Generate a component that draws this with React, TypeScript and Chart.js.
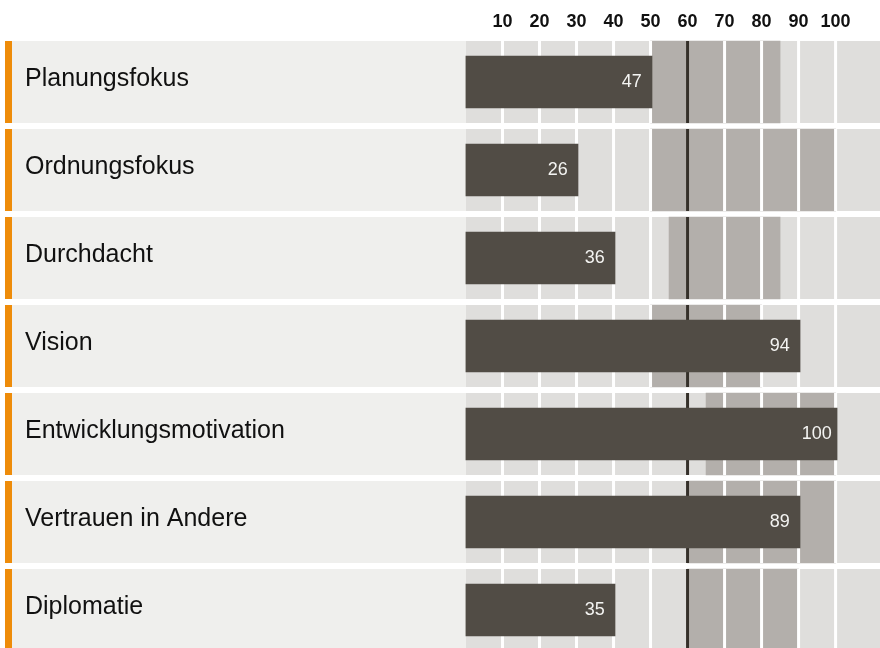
import React, { useEffect, useRef } from "react";
import { Chart, registerables } from "chart.js";

Chart.register(...registerables);

// ---- data ----
const categories = [
  "Planungsfokus",
  "Ordnungsfokus",
  "Durchdacht",
  "Vision",
  "Entwicklungsmotivation",
  "Vertrauen in Andere",
  "Diplomatie",
];
const scores = [47, 26, 36, 94, 100, 89, 35];
const barEnds = [50.4, 30.4, 40.4, 90.4, 100.4, 90.4, 40.4];
const rangeLow = [50, 50, 55, 50, 65, 60, 60];
const rangeHigh = [85, 100, 85, 80, 100, 100, 90];
const referenceValue = 60;
const tickValues = [10, 20, 30, 40, 50, 60, 70, 80, 90, 100];

// ---- styles ----
const ORANGE = "#ee8c0a";
const ROW_BG = "#efefed";
const TRACK = "#dfdedc";
const BAND = "#b3afab";
const BAR = "#514c45";
const REF = "#35302a";
const FONT = "'Liberation Sans', Arial, Helvetica, sans-serif";
const ROW_H = 82;

const decor = {
  id: "decor",
  beforeDraw(chart: any) {
    const { ctx, chartArea, scales } = chart;
    const x = scales.x;
    const y = scales.y;
    ctx.save();
    categories.forEach((_, i) => {
      const cy = y.getPixelForValue(i);
      const top = cy - ROW_H / 2;
      ctx.fillStyle = ORANGE;
      ctx.fillRect(5, top, 7, ROW_H);
      ctx.fillStyle = ROW_BG;
      ctx.fillRect(12, top, chart.width - 12, ROW_H);
      const x0 = x.getPixelForValue(0) + 0.5;
      ctx.fillStyle = TRACK;
      ctx.fillRect(x0, top, chartArea.right - x0, ROW_H);
    });
    ctx.restore();
  },
  afterDatasetDraw(chart: any, args: any) {
    if (args.index !== 0) return;
    const { ctx, scales } = chart;
    const x = scales.x;
    const y = scales.y;
    ctx.save();
    categories.forEach((_, i) => {
      const cy = y.getPixelForValue(i);
      const top = cy - ROW_H / 2;
      ctx.fillStyle = "#ffffff";
      tickValues.forEach((v) => {
        const px = x.getPixelForValue(v);
        ctx.fillRect(px - 1.5, top, 3, ROW_H);
      });
      const pr = x.getPixelForValue(referenceValue);
      ctx.fillStyle = REF;
      ctx.fillRect(pr - 1.5, top, 3, ROW_H);
    });
    ctx.restore();
  },
  afterDatasetsDraw(chart: any) {
    const { ctx, scales } = chart;
    const x = scales.x;
    const y = scales.y;
    ctx.save();
    ctx.fillStyle = "#f4f4f2";
    ctx.font = `18px ${FONT}`;
    ctx.textAlign = "center";
    ctx.textBaseline = "alphabetic";
    scores.forEach((s, i) => {
      const cy = y.getPixelForValue(i);
      const px = x.getPixelForValue(barEnds[i] - 5.5);
      ctx.fillText(String(s), px, cy + 5);
    });
    ctx.restore();
  },
};

export default function App() {
  const ref = useRef<HTMLCanvasElement | null>(null);

  useEffect(() => {
    document.body.style.margin = "0";
    const canvas = ref.current;
    if (!canvas) return;
    const chart = new Chart(canvas, {
      type: "bar",
      data: {
        labels: categories,
        datasets: [
          {
            label: "Bereich",
            data: rangeLow.map((lo, i) => [lo, rangeHigh[i]]) as any,
            backgroundColor: BAND,
            barThickness: ROW_H,
            grouped: false,
            order: 1,
            borderWidth: 0,
          } as any,
          {
            label: "Wert",
            data: barEnds,
            backgroundColor: BAR,
            barThickness: 52,
            grouped: false,
            order: 0,
            borderWidth: 0,
          } as any,
        ],
      },
      options: {
        indexAxis: "y",
        animation: false,
        responsive: false,
        devicePixelRatio: 1,
        layout: { padding: { left: 25, top: 0, right: 0, bottom: 0 } },
        plugins: {
          legend: { display: false },
          tooltip: { enabled: false },
        },
        scales: {
          x: {
            type: "linear",
            position: "top",
            min: 0,
            max: 112,
            grid: { display: false, drawTicks: false, tickLength: 0 },
            border: { display: false },
            afterFit: (s: any) => {
              s.height = 38;
              s.paddingLeft = 0;
              s.paddingRight = 0;
              s.paddingTop = 0;
              s.paddingBottom = 0;
            },
            ticks: {
              stepSize: 10,
              autoSkip: false,
              maxRotation: 0,
              padding: 5,
              color: "#111111",
              font: { family: FONT, size: 18, weight: "bold" },
              callback: (v: any) => (tickValues.includes(Number(v)) ? String(v) : ""),
            },
          },
          y: {
            type: "category",
            position: "left",
            grid: { display: false, drawTicks: false, tickLength: 0 },
            border: { display: false },
            afterFit: (s: any) => {
              s.width = 440.5;
              s.paddingLeft = 0;
              s.paddingRight = 0;
              s.paddingTop = 0;
              s.paddingBottom = 0;
            },
            ticks: {
              crossAlign: "far",
              padding: 0,
              labelOffset: -3,
              color: "#111111",
              font: { family: FONT, size: 25 },
            },
          },
        },
      },
      plugins: [decor],
    } as any);
    return () => chart.destroy();
  }, []);

  return (
    <div style={{ width: 880, height: 648, overflow: "hidden" }}>
      <canvas ref={ref} width={880} height={654} style={{ display: "block" }} />
    </div>
  );
}
